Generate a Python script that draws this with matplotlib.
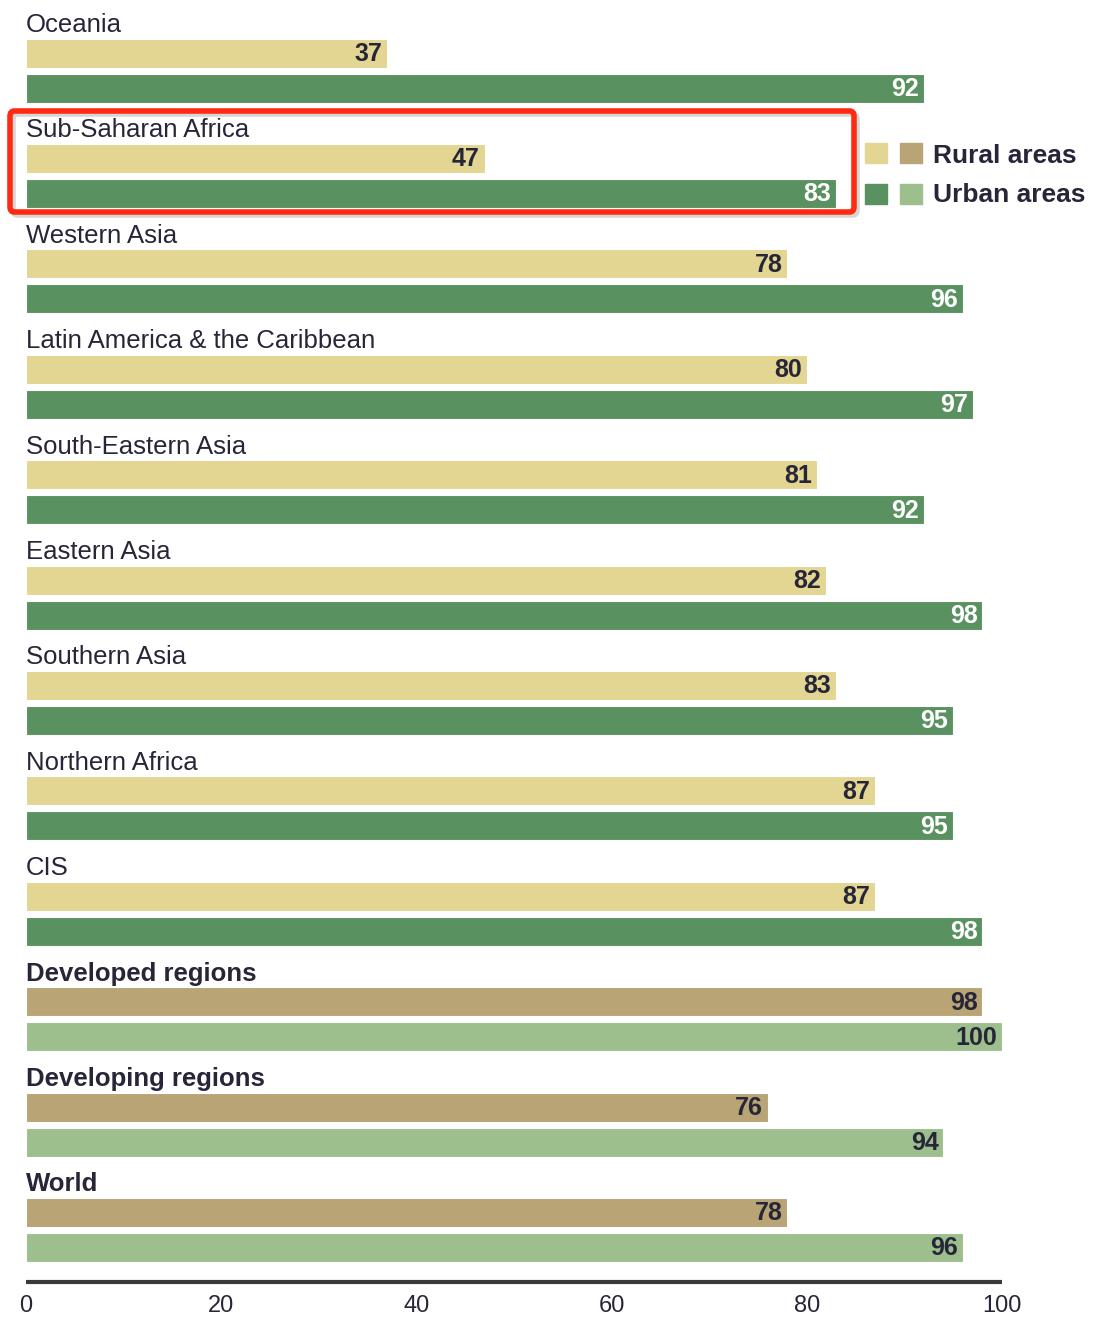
import matplotlib.pyplot as plt
from matplotlib.patches import FancyBboxPatch, Rectangle

# access figures (%), rural and urban, per region
regions = ["Oceania", "Sub-Saharan Africa", "Western Asia",
           "Latin America & the Caribbean", "South-Eastern Asia", "Eastern Asia",
           "Southern Asia", "Northern Africa", "CIS",
           "Developed regions", "Developing regions", "World"]
rural = [37, 47, 78, 80, 81, 82, 83, 87, 87, 98, 76, 78]
urban = [92, 83, 96, 97, 92, 98, 95, 95, 98, 100, 94, 96]
aggregate = [False] * 9 + [True] * 3
ticks = [0, 20, 40, 60, 80, 100]

RURAL = "#e3d592"
URBAN = "#5a9160"
RURAL_AGG = "#b9a475"
URBAN_AGG = "#9dbf8e"
TEXT = "#262638"

FONT = ["Liberation Sans", "DejaVu Sans"]
plt.rcParams["font.family"] = FONT

W, H = 1095, 1319
fig = plt.figure(figsize=(W / 100, H / 100), dpi=100)
# axes spans full height; y measured in pixels from the top
ax = fig.add_axes([26 / W, 0, (1002 - 26) / W, 1])
ax.set_xlim(0, 100)
ax.set_ylim(H, 0)
ax.axis("off")

step = 105.4
bar_h = 29
for i, name in enumerate(regions):
    top = 24 + i * step
    agg = aggregate[i]
    ax.text(0, top + 1, name, fontsize=18.5, color=TEXT, va="center", ha="left",
            fontweight="bold" if agg else "normal")
    yr = top + 29
    yu = top + 64
    ax.barh(yr, rural[i], height=bar_h, color=RURAL_AGG if agg else RURAL,
            edgecolor="white", linewidth=0.8)
    ax.barh(yu, urban[i], height=bar_h, color=URBAN_AGG if agg else URBAN,
            edgecolor="white", linewidth=0.8)
    ax.text(rural[i] - 0.5, yr + 1, str(rural[i]), fontsize=18, fontweight="bold",
            color=TEXT, ha="right", va="center")
    ax.text(urban[i] - 0.5, yu + 1, str(urban[i]), fontsize=18, fontweight="bold",
            color=TEXT if agg else "white", ha="right", va="center")

# baseline and tick labels
ax.plot([0, 100], [1282, 1282], color="#3a3a3a", lw=3, solid_capstyle="butt")
for t in ticks:
    ax.text(t, 1306, str(t), fontsize=17, color=TEXT, ha="center", va="center")

# highlight box around Sub-Saharan Africa
shadow = FancyBboxPatch((13 / W, 1 - 215 / H), 844 / W, 101 / H,
                        boxstyle="round,pad=0,rounding_size=0.004",
                        transform=fig.transFigure, fill=False,
                        edgecolor="#bbbbbb", lw=4, alpha=0.6)
box = FancyBboxPatch((10 / W, 1 - 212 / H), 844 / W, 101 / H,
                     boxstyle="round,pad=0,rounding_size=0.004",
                     transform=fig.transFigure, fill=False,
                     edgecolor="#ff2a10", lw=4)
fig.patches.extend([shadow, box])

# legend
for (x, y, c) in [(865, 143, RURAL), (900, 143, RURAL_AGG),
                  (865, 184, URBAN), (900, 184, URBAN_AGG)]:
    fig.patches.append(Rectangle((x / W, 1 - (y + 20) / H), 22 / W, 20 / H,
                                 transform=fig.transFigure, color=c))
fig.text(933 / W, 1 - 156 / H, "Rural areas", fontsize=19, fontweight="bold",
         color=TEXT, va="center", ha="left")
fig.text(933 / W, 1 - 195 / H, "Urban areas", fontsize=19, fontweight="bold",
         color=TEXT, va="center", ha="left")

fig.savefig("out.png", dpi=100, facecolor="white")
